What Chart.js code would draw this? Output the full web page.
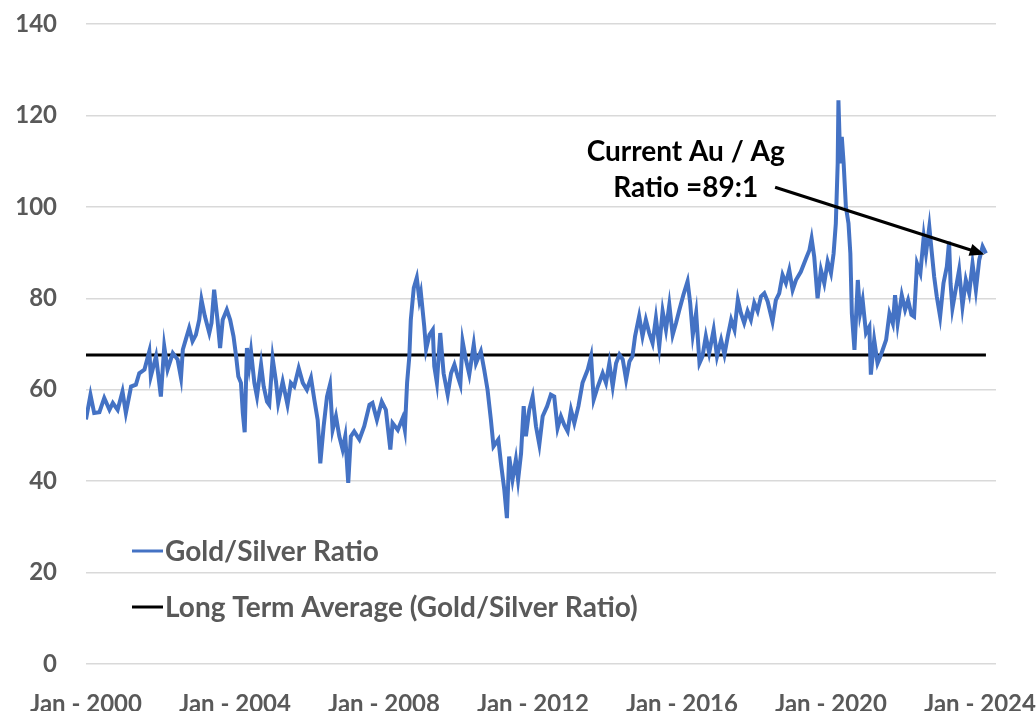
<!DOCTYPE html>
<html>
<head>
<meta charset="utf-8">
<script src="https://cdn.jsdelivr.net/npm/chart.js@4"></script>
<style>
  html, body { margin: 0; padding: 0; background: #fff; }
  #wrap { width: 1036px; height: 711px; position: relative; }
</style>
</head>
<body>
<div id="wrap"><canvas id="ratio-chart"></canvas></div>
<script>
// dates as decimal years
const dates = [
  2000.00, 2000.12, 2000.22, 2000.36, 2000.49, 2000.63, 2000.72, 2000.85, 2000.98, 2001.07,
  2001.21, 2001.34, 2001.43, 2001.57, 2001.70, 2001.74, 2001.88, 2002.01, 2002.10, 2002.19,
  2002.33, 2002.46, 2002.55, 2002.60, 2002.68, 2002.77, 2002.86, 2002.95, 2003.04, 2003.10,
  2003.19, 2003.31, 2003.37, 2003.44, 2003.53, 2003.60, 2003.67, 2003.78, 2003.87, 2003.96,
  2004.03, 2004.09, 2004.16, 2004.21, 2004.26, 2004.32, 2004.38, 2004.43, 2004.52, 2004.59,
  2004.70, 2004.77, 2004.86, 2004.92, 2005.01, 2005.10, 2005.16, 2005.28, 2005.41, 2005.50,
  2005.59, 2005.71, 2005.82, 2005.93, 2006.04, 2006.13, 2006.22, 2006.29, 2006.38, 2006.47,
  2006.55, 2006.62, 2006.71, 2006.80, 2006.89, 2006.96, 2007.04, 2007.11, 2007.20, 2007.34,
  2007.47, 2007.61, 2007.69, 2007.81, 2007.94, 2008.05, 2008.17, 2008.23, 2008.37, 2008.50,
  2008.56, 2008.62, 2008.68, 2008.72, 2008.80, 2008.88, 2008.95, 2008.99, 2009.08, 2009.13,
  2009.22, 2009.31, 2009.35, 2009.42, 2009.51, 2009.60, 2009.71, 2009.80, 2009.89, 2009.98,
  2010.05, 2010.11, 2010.20, 2010.29, 2010.41, 2010.47, 2010.60, 2010.69, 2010.78, 2010.87,
  2010.94, 2011.07, 2011.14, 2011.23, 2011.30, 2011.36, 2011.45, 2011.54, 2011.60, 2011.68,
  2011.75, 2011.81, 2011.90, 2011.99, 2012.08, 2012.17, 2012.26, 2012.38, 2012.48, 2012.57,
  2012.66, 2012.75, 2012.84, 2012.93, 2013.02, 2013.11, 2013.22, 2013.33, 2013.47, 2013.56,
  2013.63, 2013.74, 2013.87, 2013.96, 2014.05, 2014.14, 2014.23, 2014.32, 2014.41, 2014.50,
  2014.59, 2014.67, 2014.74, 2014.85, 2014.94, 2015.03, 2015.12, 2015.21, 2015.30, 2015.39,
  2015.48, 2015.57, 2015.66, 2015.75, 2015.84, 2015.93, 2016.04, 2016.15, 2016.22, 2016.29,
  2016.38, 2016.47, 2016.55, 2016.64, 2016.73, 2016.85, 2016.94, 2017.05, 2017.14, 2017.23,
  2017.32, 2017.41, 2017.50, 2017.58, 2017.67, 2017.76, 2017.85, 2017.94, 2018.03, 2018.12,
  2018.21, 2018.30, 2018.43, 2018.52, 2018.61, 2018.70, 2018.79, 2018.88, 2018.97, 2019.06,
  2019.19, 2019.33, 2019.42, 2019.48, 2019.55, 2019.64, 2019.73, 2019.82, 2019.91, 2020.00,
  2020.07, 2020.13, 2020.18, 2020.20, 2020.25, 2020.29, 2020.34, 2020.40, 2020.47, 2020.52,
  2020.56, 2020.63, 2020.72, 2020.78, 2020.85, 2020.94, 2021.03, 2021.07, 2021.16, 2021.25,
  2021.34, 2021.48, 2021.57, 2021.66, 2021.72, 2021.79, 2021.90, 2021.99, 2022.07, 2022.16,
  2022.23, 2022.31, 2022.40, 2022.49, 2022.55, 2022.64, 2022.70, 2022.77, 2022.84, 2022.93,
  2023.02, 2023.11, 2023.17, 2023.21, 2023.26, 2023.36, 2023.44, 2023.53, 2023.62, 2023.71,
  2023.80, 2023.89, 2023.98, 2024.07, 2024.16
]

const ratio = [
  53.5, 58.9, 54.9, 55.1, 58.2, 55.6, 57.1, 55.6, 59.6, 54.9,
  60.7, 61.1, 63.6, 64.4, 68.4, 62.9, 67.3, 58.5, 69.5, 64.4,
  68.0, 66.6, 62.6, 68.8, 71.0, 73.5, 70.6, 72.0, 75.3, 79.7,
  76.1, 72.4, 74.6, 81.9, 75.3, 69.1, 75.3, 77.5, 75.3, 71.7,
  67.3, 62.9, 61.5, 54.9, 50.7, 69.1, 65.1, 68.4, 61.5, 58.5,
  65.5, 60.7, 57.4, 56.7, 66.9, 61.8, 57.1, 61.8, 56.7, 61.5,
  60.7, 64.7, 61.5, 60.0, 62.6, 57.8, 53.4, 43.9, 52.0, 58.5,
  61.1, 51.2, 54.2, 49.8, 46.9, 49.8, 39.6, 49.8, 50.9, 49.1,
  52.0, 56.7, 57.1, 53.4, 57.4, 55.6, 46.9, 52.7, 51.2, 53.8,
  51.2, 61.5, 67.3, 75.3, 82.3, 84.5, 79.7, 81.2, 73.9, 68.8,
  72.0, 73.1, 65.1, 61.5, 72.4, 63.6, 58.9, 63.6, 65.5, 62.9,
  61.1, 70.6, 66.6, 63.3, 69.9, 65.8, 68.4, 64.4, 60.0, 53.4,
  47.6, 49.1, 43.9, 38.1, 31.9, 45.4, 40.3, 44.7, 40.3, 46.1,
  56.4, 49.8, 55.6, 58.5, 52.0, 48.0, 54.2, 56.4, 58.9, 58.5,
  51.6, 54.2, 52.3, 50.9, 55.6, 52.7, 56.4, 61.5, 64.4, 67.3,
  57.8, 60.7, 63.6, 61.5, 65.8, 60.7, 65.8, 67.7, 66.6, 62.2,
  66.2, 67.3, 71.7, 76.1, 71.7, 75.3, 72.4, 70.2, 75.7, 69.5,
  77.2, 73.1, 78.6, 72.0, 74.6, 77.5, 80.8, 83.7, 79.0, 72.0,
  76.8, 65.8, 67.3, 71.7, 68.0, 73.1, 67.3, 70.9, 67.7, 71.7,
  75.3, 73.1, 79.7, 76.8, 74.6, 77.2, 75.3, 79.0, 77.2, 80.4,
  81.1, 79.3, 74.9, 79.6, 81.1, 85.1, 83.3, 86.2, 81.8, 84.0,
  85.8, 88.7, 90.5, 93.1, 89.1, 80.0, 86.2, 83.3, 88.0, 85.5,
  89.8, 96.4, 109.5, 123.3, 109.5, 115.3, 109.5, 100.0, 96.4, 89.8,
  76.7, 68.7, 84.0, 76.7, 79.6, 72.4, 73.8, 63.3, 70.9, 65.8,
  67.6, 70.9, 76.7, 74.5, 80.7, 74.5, 80.7, 77.5, 79.6, 76.4,
  76.0, 87.6, 85.5, 93.5, 89.8, 95.6, 90.5, 84.7, 80.4, 76.0,
  83.3, 86.9, 92.4, 83.3, 77.8, 82.5, 86.2, 78.2, 84.0, 81.1,
  87.6, 81.8, 88.4, 91.3, 89.8
]

const longTermAverage = 67.6
const tickYears = [2000, 2004, 2008, 2012, 2016, 2020, 2024]
const seriesNames = ['Gold/Silver Ratio', 'Long Term Average (Gold/Silver Ratio)']

// callout text and arrow in data units
const noteLines = ['Current Au / Ag', 'Ratio =89:1']
const noteAnchor = { x: 2016.1, y: 108 }
const arrowFrom = { x: 2018.5, y: 104.3 }
const arrowTo = { x: 2024.12, y: 89.6 }

const FONT = 'Lato, Calibri, "Open Sans", sans-serif'
const GREY = '#595959'

const legendInside = {
  id: 'legendInside',
  afterDraw(chart) {
    const ctx = chart.ctx
    const left = chart.chartArea.left + 46
    const rows = [551, 607]
    ctx.save()
    ctx.font = 'bold 28px ' + FONT
    ctx.textBaseline = 'middle'
    chart.data.datasets.forEach((ds, i) => {
      const y = rows[i]
      ctx.strokeStyle = ds.borderColor
      ctx.lineWidth = 3
      ctx.beginPath()
      ctx.moveTo(left, y)
      ctx.lineTo(left + 31, y)
      ctx.stroke()
      ctx.fillStyle = GREY
      ctx.fillText(ds.label, left + 33, y + 1)
    })
    ctx.restore()
  }
}

const callout = {
  id: 'callout',
  afterDraw(chart) {
    const ctx = chart.ctx
    const xs = chart.scales.x
    const ys = chart.scales.y
    const tx = xs.getPixelForValue(noteAnchor.x)
    const ty = ys.getPixelForValue(noteAnchor.y)
    ctx.save()
    ctx.font = 'bold 28px ' + FONT
    ctx.fillStyle = '#000'
    ctx.textAlign = 'center'
    ctx.textBaseline = 'middle'
    ctx.fillText(noteLines[0], tx, ty - 18)
    ctx.fillText(noteLines[1], tx, ty + 18)

    const x1 = xs.getPixelForValue(arrowFrom.x), y1 = ys.getPixelForValue(arrowFrom.y)
    const x2 = xs.getPixelForValue(arrowTo.x), y2 = ys.getPixelForValue(arrowTo.y)
    const ang = Math.atan2(y2 - y1, x2 - x1)
    ctx.strokeStyle = '#000'
    ctx.lineWidth = 3
    ctx.beginPath()
    ctx.moveTo(x1, y1)
    ctx.lineTo(x2 - 12 * Math.cos(ang), y2 - 12 * Math.sin(ang))
    ctx.stroke()
    ctx.fillStyle = '#000'
    ctx.beginPath()
    ctx.moveTo(x2, y2)
    ctx.lineTo(x2 - 16 * Math.cos(ang - 0.4), y2 - 16 * Math.sin(ang - 0.4))
    ctx.lineTo(x2 - 16 * Math.cos(ang + 0.4), y2 - 16 * Math.sin(ang + 0.4))
    ctx.closePath()
    ctx.fill()
    ctx.restore()
  }
}

const points = dates.map((d, i) => ({ x: d, y: ratio[i] }))
const avgPoints = [
  { x: dates[0], y: longTermAverage },
  { x: dates[dates.length - 1], y: longTermAverage }
]

new Chart(document.querySelector('#ratio-chart').getContext('2d'), {
  type: 'line',
  data: {
    datasets: [
      {
        label: seriesNames[0],
        data: points,
        borderColor: '#4472C4',
        backgroundColor: '#4472C4',
        borderWidth: 4,
        pointRadius: 0,
        tension: 0
      },
      {
        label: seriesNames[1],
        data: avgPoints,
        borderColor: '#000000',
        backgroundColor: '#000000',
        borderWidth: 3,
        pointRadius: 0
      }
    ]
  },
  options: {
    responsive: true,
    maintainAspectRatio: false,
    animation: false,
    layout: { padding: { top: 24, right: 40, left: 0, bottom: 0 } },
    plugins: {
      legend: { display: false },
      tooltip: { enabled: false }
    },
    scales: {
      x: {
        type: 'linear',
        min: 2000,
        max: 2024.43,
        grid: { display: false },
        border: { display: false },
        afterBuildTicks: scale => { scale.ticks = tickYears.map(v => ({ value: v })) },
        afterFit: scale => {
          scale.height = 47
          scale.paddingLeft = 0
          scale.paddingRight = 0
        },
        ticks: {
          autoSkip: false,
          maxRotation: 0,
          padding: 18,
          color: GREY,
          font: { family: FONT, size: 24, weight: 'bold' },
          callback: v => 'Jan - ' + v
        }
      },
      y: {
        min: 0,
        max: 140,
        grid: { color: '#d9d9d9', lineWidth: 1.5, drawTicks: false },
        border: { display: false },
        afterFit: scale => {
          scale.width = 86
          scale.paddingTop = 0
          scale.paddingBottom = 0
        },
        ticks: {
          stepSize: 20,
          padding: 29,
          color: GREY,
          font: { family: FONT, size: 24, weight: 'bold' }
        }
      }
    }
  },
  plugins: [legendInside, callout]
})
</script>
</body>
</html>
